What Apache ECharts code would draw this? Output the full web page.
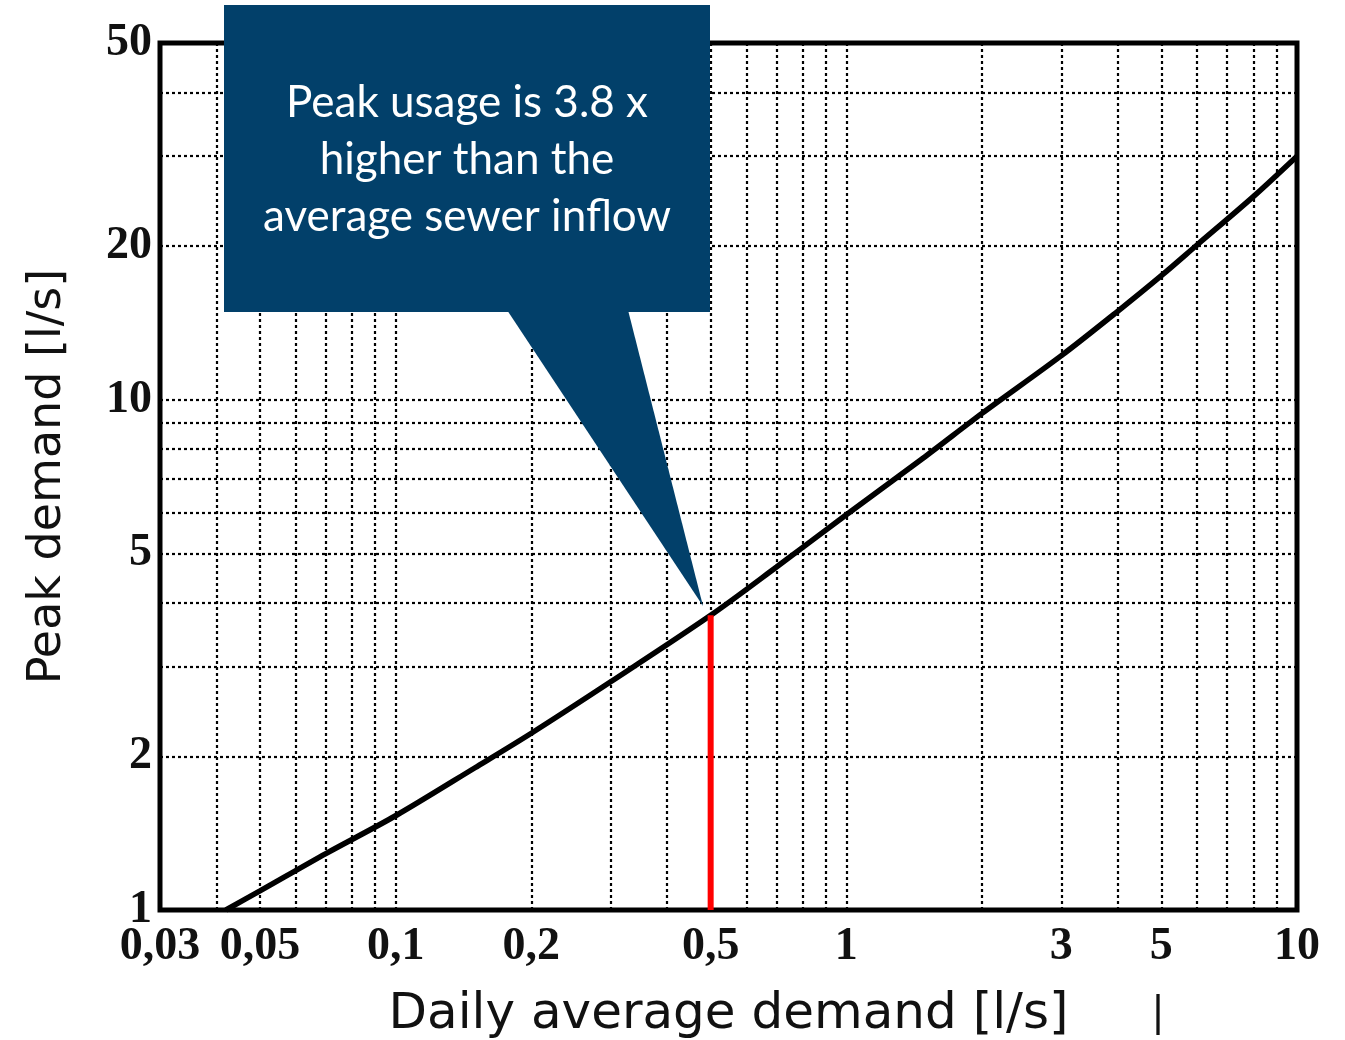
<!DOCTYPE html>
<html><head><meta charset="utf-8">
<script src="https://cdn.jsdelivr.net/npm/echarts@6/dist/echarts.min.js"></script>
<style>html,body{margin:0;padding:0;background:#fff}#c{width:1345px;height:1040px}</style>
</head><body><div id="c"></div>
<script>
const xTickValues = [0.03, 0.05, 0.1, 0.2, 0.5, 1, 3, 5, 10];
const xTickLabels = ['0,03', '0,05', '0,1', '0,2', '0,5', '1', '3', '5', '10'];
const yTickValues = [1, 2, 5, 10, 20, 50];
const yTickLabels = ['1', '2', '5', '10', '20', '50'];
const xGridValues = [0.04, 0.05, 0.06, 0.07, 0.08, 0.09, 0.1, 0.2, 0.3, 0.4, 0.5, 0.6, 0.7, 0.8, 0.9, 1, 2, 3, 4, 5, 6, 7, 8, 9];
const yGridValues = [2, 3, 4, 5, 6, 7, 8, 9, 10, 20, 30, 40];
const dailyAverage = [0.042, 0.05, 0.07, 0.1, 0.15, 0.2, 0.3, 0.5, 0.7, 1, 1.5, 2, 3, 4, 5, 6, 8, 10];
const peakDemand   = [1.0, 1.09, 1.29, 1.53, 1.9, 2.22, 2.8, 3.78, 4.7, 5.95, 7.75, 9.4, 12.2, 14.9, 17.5, 20.1, 25, 30];
const markerX = [0.5, 0.5];
const markerY = [1, 3.78];
const calloutLines = ['Peak usage is 3.8 x', 'higher than the', 'average sewer inflow'];

function pick(values, labels, v) {
  for (let i = 0; i < values.length; i++) {
    if (Math.abs(values[i] - v) / values[i] < 1e-6) return labels[i];
  }
  return '';
}

const chart = echarts.init(document.getElementById('c'), null, {renderer: 'canvas'});
const gridLineData = xGridValues.map(v => ({xAxis: v})).concat(yGridValues.map(v => ({yAxis: v})));

const option = {
  backgroundColor: '#ffffff',
  animation: false,
  grid: {left: 160, right: 48, top: 43, bottom: 130, show: true, borderColor: '#000', borderWidth: 5,
         backgroundColor: 'rgba(0,0,0,0)', containLabel: false, outerBoundsMode: 'none'},
  xAxis: {
    type: 'log', logBase: 10, min: 0.03, max: 10,
    axisLine: {show: false}, axisTick: {show: false}, splitLine: {show: false},
    axisLabel: {
      customValues: xTickValues,
      formatter: v => pick(xTickValues, xTickLabels, v),
      fontFamily: 'Liberation Serif', fontWeight: 'bold', fontSize: 46, color: '#111', margin: 14
    },
    name: 'Daily average demand [l/s]', nameLocation: 'middle', nameGap: 80,
    nameTextStyle: {fontFamily: 'DejaVu Sans', fontSize: 50, color: '#111'}
  },
  yAxis: {
    type: 'log', logBase: 10, min: 1, max: 50,
    axisLine: {show: false}, axisTick: {show: false}, splitLine: {show: false},
    axisLabel: {
      customValues: yTickValues,
      formatter: v => pick(yTickValues, yTickLabels, v),
      fontFamily: 'Liberation Serif', fontWeight: 'bold', fontSize: 46, color: '#111', margin: 8
    },
    name: 'Peak demand [l/s]', nameLocation: 'middle', nameGap: 89, nameRotate: 90,
    nameTextStyle: {fontFamily: 'DejaVu Sans', fontSize: 46, color: '#111'}
  },
  series: [
    {
      type: 'line', data: [[0.03, 1]], showSymbol: false, lineStyle: {opacity: 0}, silent: true, z: 1,
      markLine: {
        z: 1, silent: true, symbol: ['none', 'none'], label: {show: false}, animation: false,
        lineStyle: {color: '#000', width: 2.2, type: [3, 3]},
        emphasis: {disabled: true},
        data: gridLineData
      }
    },
    {
      type: 'line', smooth: 0.3, showSymbol: false, z: 3,
      data: dailyAverage.map((x, i) => [x, peakDemand[i]]),
      lineStyle: {color: '#000', width: 5.5}
    },
    {
      type: 'line', showSymbol: false, z: 4,
      data: markerX.map((x, i) => [x, markerY[i]]),
      lineStyle: {color: '#ff0000', width: 6}
    }
  ],
  graphic: [
    {type: 'rect', z: 100, shape: {x: 224, y: 5, width: 486, height: 307}, style: {fill: '#02406A'}},
    {type: 'polygon', z: 100, shape: {points: [[507, 310], [628, 310], [703, 606]]}, style: {fill: '#02406A'}},
    {type: 'text', z: 101, style: {text: calloutLines[0], x: 467, y: 103, align: 'center', verticalAlign: 'middle', fill: '#fff', font: '44px Lato'}},
    {type: 'text', z: 101, style: {text: calloutLines[1], x: 467, y: 160, align: 'center', verticalAlign: 'middle', fill: '#fff', font: '44px Lato'}},
    {type: 'text', z: 101, style: {text: calloutLines[2], x: 467, y: 217, align: 'center', verticalAlign: 'middle', fill: '#fff', font: '44px Lato'}},
    {type: 'text', z: 101, style: {text: '|', x: 1158, y: 1015, align: 'center', verticalAlign: 'middle', fill: '#111', font: '40px "DejaVu Sans"'}}
  ]
};
chart.setOption(option);
</script></body></html>
